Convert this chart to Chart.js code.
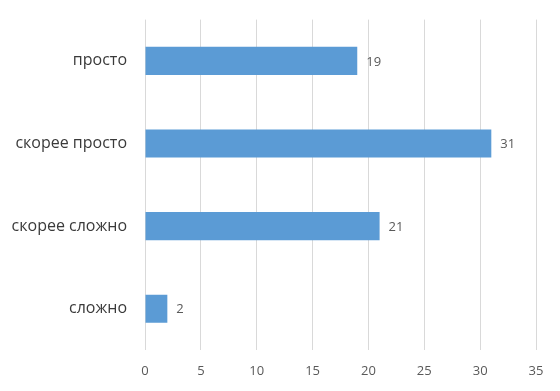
<!DOCTYPE html>
<html>
<head>
<meta charset="utf-8">
<script src="https://cdn.jsdelivr.net/npm/chart.js@4"></script>
<style>
  html, body { margin: 0; padding: 0; background: #fff; }
  #wrap { width: 560px; height: 391px; position: relative; }
</style>
</head>
<body>
<div id="wrap"><canvas id="chart" width="560" height="391"></canvas></div>
<script>
/* ---------- data ---------- */
const categories = ['просто', 'скорее просто', 'скорее сложно', 'сложно'];
const answers = [19, 31, 21, 2];
const xTicks = [0, 5, 10, 15, 20, 25, 30, 35];

const FONT = '"Open Sans", "DejaVu Sans", sans-serif';

// draws the number right after the end of each bar
const valueLabels = {
  id: 'valueLabels',
  afterDatasetsDraw(chart) {
    const ctx = chart.ctx;
    const meta = chart.getDatasetMeta(0);
    ctx.save();
    ctx.font = '13px ' + FONT;
    ctx.fillStyle = '#595959';
    ctx.textAlign = 'left';
    ctx.textBaseline = 'middle';
    meta.data.forEach((bar, i) => {
      ctx.fillText(String(answers[i]), bar.x + 9, bar.y + 1);
    });
    ctx.restore();
  }
};

new Chart(document.getElementById('chart'), {
  type: 'bar',
  data: {
    labels: categories,
    datasets: [{
      data: answers,
      backgroundColor: '#5b9bd5',
      borderWidth: 0,
      categoryPercentage: 1,
      barPercentage: 0.34
    }]
  },
  options: {
    indexAxis: 'y',
    responsive: false,
    animation: false,
    layout: { padding: { top: 9, right: 24, left: 0, bottom: 0 } },
    plugins: { legend: { display: false }, tooltip: { enabled: false } },
    scales: {
      x: {
        min: 0,
        max: 35,
        afterBuildTicks: s => { s.ticks = xTicks.map(v => ({ value: v })); },
        grid: { color: '#d9d9d9', drawTicks: false },
        border: { display: false },
        ticks: { color: '#595959', font: { size: 13, family: FONT }, padding: 13 },
        afterFit: s => { s.height = 41; }
      },
      y: {
        grid: { display: false },
        border: { display: false },
        ticks: { color: '#3a3a3a', font: { size: 16, family: FONT }, padding: 10 },
        afterFit: s => { s.width = 145; }
      }
    }
  },
  plugins: [valueLabels]
});
</script>
</body>
</html>
